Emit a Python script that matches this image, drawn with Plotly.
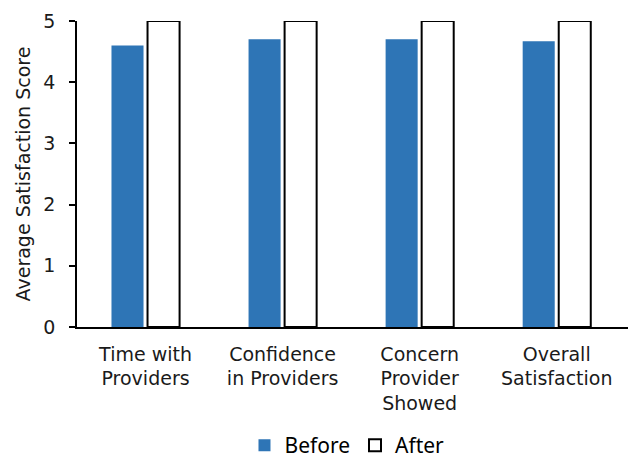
import plotly.graph_objects as go

# Patient satisfaction survey, average score per question (scale 0-5)
categories = ["Time with Providers", "Confidence in Providers",
              "Concern Provider Showed", "Overall Satisfaction"]
tick_labels = ["Time with<br>Providers", "Confidence<br>in Providers",
               "Concern<br>Provider<br>Showed", "Overall<br>Satisfaction"]
before_scores = [4.6, 4.7, 4.7, 4.67]
after_scores = [5.0, 5.0, 5.0, 5.0]

FONT = "DejaVu Sans, sans-serif"

fig = go.Figure()
fig.add_trace(go.Bar(
    name="Before", x=categories, y=before_scores,
    marker=dict(color="#2E75B6", line=dict(width=0)),
))
fig.add_trace(go.Bar(
    name="After", x=categories, y=after_scores,
    marker=dict(color="white", line=dict(color="black", width=2)),
))

fig.update_layout(
    width=628, height=459,
    margin=dict(l=77, r=0, t=21, b=132, autoexpand=False),
    paper_bgcolor="white", plot_bgcolor="white",
    barmode="group", bargap=0.474, bargroupgap=0.111,
    font=dict(family=FONT, size=19, color="#1a1a1a"),
    showlegend=True,
    legend=dict(orientation="h", x=0.49, xanchor="center",
                yref="container", y=0.074, yanchor="top",
                font=dict(family="Noto Sans, sans-serif", size=21, color="black"),
                itemwidth=30, tracegroupgap=0),
)
fig.update_xaxes(
    range=[-0.5, 3.52], showline=True, linecolor="black", linewidth=1.5,
    ticks="", tickvals=categories, ticktext=tick_labels, ticklabelstandoff=9,
    tickfont=dict(size=19), showgrid=False, zeroline=False, automargin=False,
)
fig.update_yaxes(
    range=[0, 5], dtick=1, showline=True, linecolor="black", linewidth=1.5,
    ticks="outside", ticklen=6, tickcolor="black", tickwidth=1.5,
    ticklabelstandoff=10,
    tickfont=dict(size=19), showgrid=False, zeroline=False, automargin=False,
    title=dict(text="Average Satisfaction Score", font=dict(size=19), standoff=8),
)

fig.write_html("out.html")
